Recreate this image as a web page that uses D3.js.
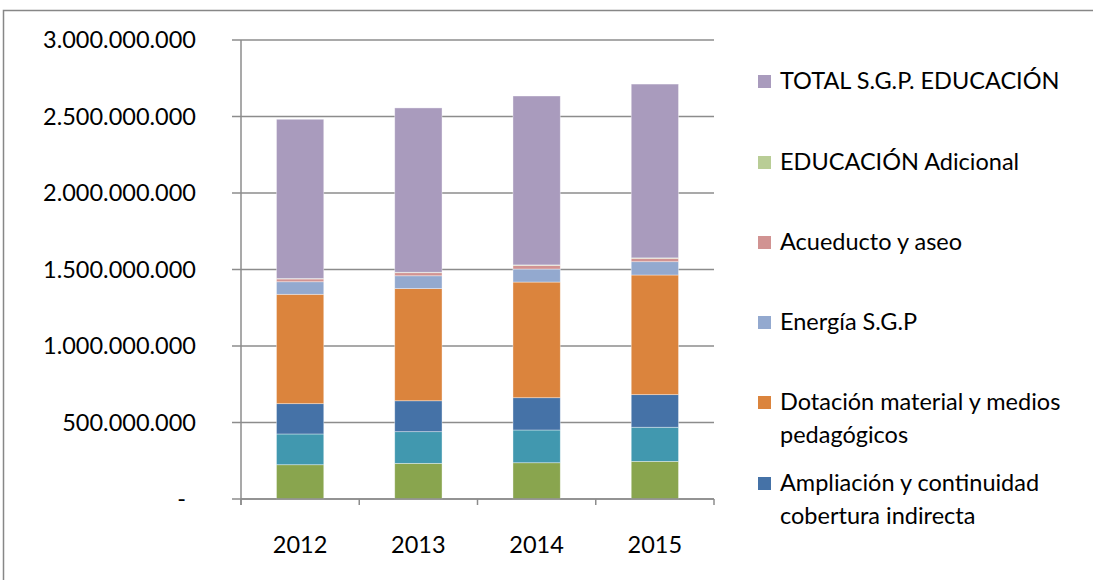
<!DOCTYPE html>
<html>
<head>
<meta charset="utf-8">
<script src="https://cdn.jsdelivr.net/npm/d3@7"></script>
<style>
  body { margin: 0; background: #fff; }
  svg text { font-family: Lato, "Open Sans", sans-serif; fill: #000; }
</style>
</head>
<body>
<div id="chart"></div>
<script>
// years on the x axis
const years = ["2012", "2013", "2014", "2015"];

// series, bottom of the stack first (the two lowest are cut off in the original legend)
const seriesNames = [
  "Serie 1",
  "Serie 2",
  "Ampliación y continuidad cobertura indirecta",
  "Dotación material y medios pedagógicos",
  "Energía S.G.P",
  "Acueducto y aseo",
  "EDUCACIÓN Adicional",
  "TOTAL S.G.P. EDUCACIÓN"
];
const seriesColors = ["#89a54e", "#4198af", "#4572a7", "#db843d", "#93a9cf", "#d19392", "#b9cd96", "#a99bbd"];

// values per series, one per year
const serie1 = [224000000, 233000000, 237000000, 246000000];
const serie2 = [201000000, 207000000, 214000000, 223000000];
const ampliacion = [198000000, 202000000, 211000000, 213000000];
const dotacion = [715000000, 733000000, 756000000, 782000000];
const energia = [82000000, 84000000, 85000000, 87000000];
const acueducto = [18000000, 20000000, 24000000, 22000000];
const adicional = [3000000, 3000000, 3000000, 3000000];
const totalSGP = [1041000000, 1074000000, 1104000000, 1136000000];

const seriesValues = [serie1, serie2, ampliacion, dotacion, energia, acueducto, adicional, totalSGP];

// y tick values and labels
const yTicks = [0, 500000000, 1000000000, 1500000000, 2000000000, 2500000000, 3000000000];
const yTickLabels = ["-", "500.000.000", "1.000.000.000", "1.500.000.000", "2.000.000.000", "2.500.000.000", "3.000.000.000"];

// legend entries that are visible (top to bottom)
const legendEntries = [
  { idx: 7, lines: ["TOTAL S.G.P. EDUCACIÓN"] },
  { idx: 6, lines: ["EDUCACIÓN Adicional"] },
  { idx: 5, lines: ["Acueducto y aseo"] },
  { idx: 4, lines: ["Energía S.G.P"] },
  { idx: 3, lines: ["Dotación material y medios", "pedagógicos"] },
  { idx: 2, lines: ["Ampliación y continuidad", "cobertura indirecta"] }
];

const W = 1093, H = 580;
const plot = { left: 241, right: 714, top: 40, bottom: 499 };
const fontSize = 23.5;

const svg = d3.select("#chart").append("svg")
  .attr("width", W)
  .attr("height", H);

// outer chart frame
svg.append("rect")
  .attr("x", 3.5).attr("y", 10.5)
  .attr("width", 1100).attr("height", 600)
  .attr("fill", "#fff")
  .attr("stroke", "#878787")
  .attr("stroke-width", 1.5);

const x = d3.scaleBand()
  .domain(years)
  .range([plot.left, plot.right])
  .paddingInner(0.6)
  .paddingOuter(0.3);

const y = d3.scaleLinear()
  .domain([0, 3000000000])
  .range([plot.bottom, plot.top]);

// build stack table
const table = years.map((yr, i) => {
  const row = { year: yr };
  seriesNames.forEach((s, k) => { row[s] = seriesValues[k][i]; });
  return row;
});
const stacked = d3.stack().keys(seriesNames)(table);

// gridlines (extend left to act as tick marks)
svg.append("g")
  .selectAll("line")
  .data(yTicks)
  .enter().append("line")
  .attr("x1", plot.left - 9)
  .attr("x2", plot.right)
  .attr("y1", d => y(d))
  .attr("y2", d => y(d))
  .attr("stroke", "#8c8c8c")
  .attr("stroke-width", 1.5);

// y labels
svg.append("g")
  .selectAll("text")
  .data(yTicks)
  .enter().append("text")
  .attr("x", (d, i) => i === 0 ? 186 : 196)
  .attr("y", d => y(d))
  .attr("dy", "0.35em")
  .attr("text-anchor", "end")
  .style("font-size", fontSize + "px")
  .text((d, i) => yTickLabels[i]);

// bars
svg.append("g")
  .selectAll("g")
  .data(stacked)
  .enter().append("g")
  .attr("fill", (d, i) => seriesColors[i])
  .selectAll("rect")
  .data(d => d)
  .enter().append("rect")
  .attr("x", d => x(d.data.year))
  .attr("width", x.bandwidth())
  .attr("y", d => y(d[1]))
  .attr("height", d => y(d[0]) - y(d[1]))
  .attr("stroke", "#ffffff")
  .attr("stroke-opacity", 0.5)
  .attr("stroke-width", 0.75);

// y axis line
svg.append("line")
  .attr("x1", plot.left).attr("x2", plot.left)
  .attr("y1", plot.top).attr("y2", plot.bottom + 6)
  .attr("stroke", "#8c8c8c")
  .attr("stroke-width", 1.5);

// x axis line and category boundary ticks
svg.append("line")
  .attr("x1", plot.left).attr("x2", plot.right)
  .attr("y1", plot.bottom).attr("y2", plot.bottom)
  .attr("stroke", "#8c8c8c")
  .attr("stroke-width", 1.5);

const bounds = d3.range(years.length + 1).map(i => plot.left + i * (plot.right - plot.left) / years.length);
svg.append("g")
  .selectAll("line")
  .data(bounds)
  .enter().append("line")
  .attr("x1", d => d).attr("x2", d => d)
  .attr("y1", plot.bottom).attr("y2", plot.bottom + 6)
  .attr("stroke", "#8c8c8c")
  .attr("stroke-width", 1.5);

// x labels
svg.append("g")
  .selectAll("text")
  .data(years)
  .enter().append("text")
  .attr("x", d => x(d) + x.bandwidth() / 2)
  .attr("y", 545)
  .attr("dy", "0.35em")
  .attr("text-anchor", "middle")
  .style("font-size", fontSize + "px")
  .text(d => d);

// legend
const legendY = [81, 162, 242, 322, 402, 483];
const lineGap = 33;
const legend = svg.append("g");
legendEntries.forEach((e, i) => {
  const g = legend.append("g").attr("transform", `translate(0,${legendY[i]})`);
  g.append("rect")
    .attr("x", 758).attr("y", -6)
    .attr("width", 13).attr("height", 13)
    .attr("fill", seriesColors[e.idx]);
  e.lines.forEach((ln, j) => {
    g.append("text")
      .attr("x", 780)
      .attr("y", j * lineGap)
      .attr("dy", "0.35em")
      .style("font-size", fontSize + "px")
      .text(ln);
  });
});
</script>
</body>
</html>
